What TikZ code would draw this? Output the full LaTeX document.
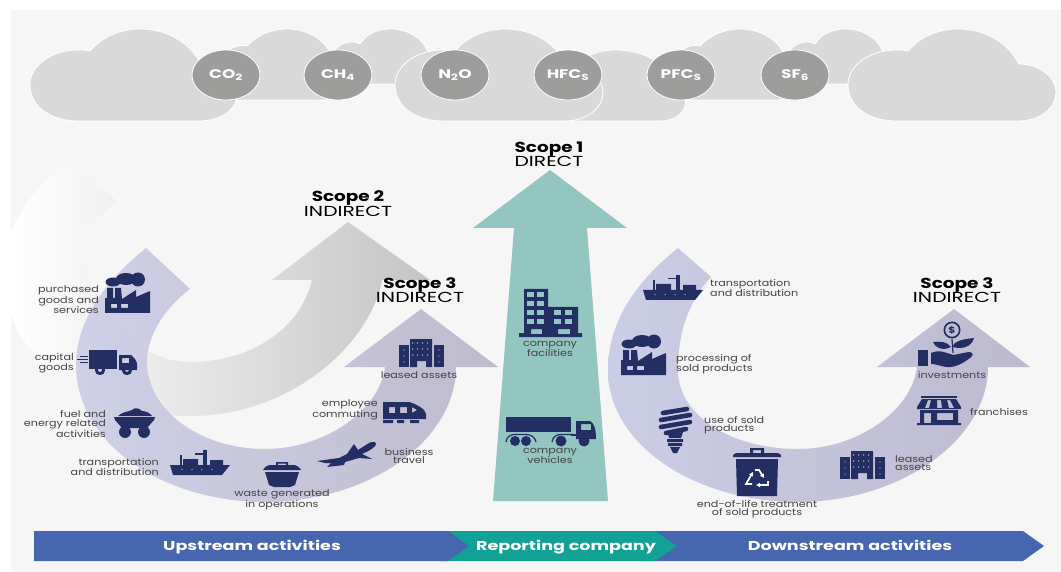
\documentclass[tikz,border=0pt]{standalone}
\usepackage{fontspec}
\setmainfont{Poppins}[FakeStretch=1.2]
\newfontfamily\widefont{Poppins}[FakeStretch=1.36]
\newfontfamily\scopefont{Poppins}[FakeStretch=1.4,BoldFeatures={FakeStretch=1.27}]
\usetikzlibrary{shapes.geometric,arrows.meta}
\definecolor{panelgrey}{HTML}{F6F6F6}
\definecolor{cloudgrey}{HTML}{D9D9D9}
\definecolor{gasgrey}{HTML}{9D9D9B}
\definecolor{teallight}{HTML}{93C5C1}
\definecolor{tealdark}{HTML}{12A195}
\definecolor{barblue}{HTML}{4666B0}
\definecolor{iconblue}{HTML}{232F63}
\definecolor{lbltext}{HTML}{444444}
\definecolor{swooshleft}{HTML}{CBCDE6}
\definecolor{swooshright}{HTML}{B9B5C9}
\tikzset{
	cloud/.style={fill=cloudgrey, draw=white, line width=0.8pt},
	gas/.style={ellipse, fill=gasgrey, draw=white, line width=0.8pt, minimum width=68pt, minimum height=50pt, inner sep=0pt, text=white, font=\widefont\fontsize{12.5}{14}\selectfont\bfseries},
	lbl/.style={inner sep=0pt, text=lbltext, font=\fontsize{9.3}{8.5}\selectfont},
	scopetitle/.style={inner sep=0pt, align=center, text=black, font=\scopefont\fontsize{14.5}{14.5}\selectfont},
	bartext/.style={anchor=base, inner sep=0pt, text=white, font=\widefont\fontsize{12.9}{15}\selectfont\bfseries},
	icon/.style={fill=iconblue, even odd rule},
	pics/bigcloud/.style={code={
		\path[cloud] (48,92) .. controls (20,92) and (0,77) .. (0,56) .. controls (0,36) and (22,21) .. (48,21) .. controls (52,21) and (56,21) .. (60,22) .. controls (72,8) and (90,0) .. (110,0) .. controls (138,0) and (160,14) .. (171,35) .. controls (192,35) and (208,49) .. (208,63) .. controls (208,79) and (192,92) .. (170,92) -- cycle;
	}},
	pics/midcloud/.style={code={
		\path[cloud] (25,71) .. controls (5,71) and (-5,50) .. (5,35) .. controls (12,22) and (28,14) .. (37,17) .. controls (47,6) and (62,0) .. (77,0) .. controls (97,0) and (113,10) .. (120,23) .. controls (135,35) and (135,71) .. (115,71) -- cycle;
	}},
	pics/smallcloud/.style={code={
		\path[cloud] (12,55) .. controls (0,40) and (12,13) .. (32,13) .. controls (36,13) and (38,14) .. (40,15) .. controls (46,5) and (58,0) .. (70,0) .. controls (88,0) and (102,9) .. (107,21) .. controls (125,30) and (125,55) .. (100,55) -- cycle;
	}},
	pics/factoryicon/.style={code={
		\path[icon] (8,10) ellipse [x radius=7.5, y radius=4.5];
		\path[icon] (21,7) ellipse [x radius=10, y radius=6];
		\path[icon] (33,7.5) ellipse [x radius=7, y radius=7];
		\path[icon] (0,41) -- (0,26) -- (2,26) -- (2,16) -- (8,16) -- (8,26) -- (10,26) -- (10,16) -- (16,16) -- (17,27) -- (31,18) -- (31,25) -- (45,19) -- (45,41) -- cycle
			(6,32) rectangle (12,36) (16,32) rectangle (23,36);
	}},
	pics/truckicon/.style={code={
		\draw[iconblue, line width=0.4pt] (3,6) -- (11,6) (0,9) -- (11,9) (3,12) -- (11,12);
		\path[icon] (12,0) rectangle (40,19);
		\path[icon] (42,5) -- (54,5) .. controls (58,8) and (60,12) .. (60,14) -- (60,20) -- (42,20) -- cycle (45,8) rectangle (52,13);
		\path[icon] (23,20) circle [radius=5.2] (23,20) circle [radius=2];
		\path[icon] (50,20) circle [radius=5.2] (50,20) circle [radius=2];
	}},
	pics/carticon/.style={code={
		\path[icon] (4,8) .. controls (10,3) and (14,4) .. (18,2) .. controls (21,-1) and (25,0) .. (28,3) .. controls (32,3) and (36,5) .. (38,8) -- cycle;
		\path[icon] (0,9) -- (41,9) -- (40,12) -- (33,20) -- (8,20) -- (1,12) -- cycle;
		\path[icon] (11,24) circle [radius=6];
		\path[icon] (30,24) circle [radius=6];
	}},
	pics/shipicon/.style={code={
		\path[icon] (0,15) -- (60,15) -- (52,25) -- (3,25) -- cycle;
		\path[icon] (13,9) rectangle (28,15) (40,10) rectangle (53,15);
		\path[icon] (33,0) rectangle (37,15);
		\path[icon] (25,3) rectangle (36,4.5);
		\path[icon] (10,5) rectangle (11.5,15);
		\foreach \wx in {12,22,32,42}
			\fill[white!70!iconblue] (\wx,19.5) circle [radius=0.6];
	}},
	pics/wasteicon/.style={code={
		\path[icon] (13,3) -- (13,0) -- (25,0) -- (25,3) -- (23,3) -- (23,1.5) -- (15,1.5) -- (15,3) -- cycle;
		\path[icon] (0,8) .. controls (2,5) and (4,3) .. (8,3) -- (30,3) .. controls (34,3) and (36,5) .. (38,8) -- cycle;
		\path[icon] (2,10) -- (36,10) -- (32,23) -- (27,25) -- (11,25) -- (6,23) -- cycle;
	}},
	pics/planeicon/.style={code={
		\path[icon] (0,19) -- (22,16) -- (30,12) -- (37,2) -- (41,8) -- (52,1) .. controls (56,-1) and (59,0) .. (59,2) .. controls (59,5) and (52,9) .. (45,12) -- (55,17) -- (42,16) -- (28,20) -- (27,23) -- (10,25) -- (14,21) -- (8,21) -- cycle;
	}},
	pics/trainicon/.style={code={
		\path[icon] (0,0) -- (26,0) .. controls (34,2) and (43,8) .. (43,12) -- (43,17) -- (0,17) -- cycle
			(6,5) rectangle (12,11) (17,5) rectangle (24,11) (29,5) -- (34,8) -- (29,11) -- cycle;
		\path[icon] (0,18) rectangle (10,21) (14,18) rectangle (21,21) (27,18) rectangle (36,21);
	}},
	pics/officeicon/.style={code={
		\path[icon] (0,6) rectangle (10,28);
		\path[icon] (35,6) rectangle (45,28);
		\path[icon] (11,0) -- (33,0) -- (33,28) -- (27,28) -- (27,22) -- (18,22) -- (18,28) -- (11,28) -- cycle;
		\foreach \wx in {15,20,25,30}
			\foreach \wy in {4,10,16}
				\fill[white!75!iconblue] (\wx-1.4,\wy) circle [radius=0.7];
		\foreach \wx in {5,40}
			\foreach \wy in {11,17,23}
				\fill[white!75!iconblue] (\wx,\wy) circle [radius=0.7];
	}},
	pics/buildingicon/.style={code={
		\path[icon] (0,44) -- (5,44) -- (5,0) -- (29,0) -- (29,18) -- (59,18) -- (59,44) -- (63,44) -- (63,48) -- (0,48) -- cycle
			(12,40) rectangle (23,45) (39,40) rectangle (51,45);
		\foreach \wx in {8,18}
			\foreach \wy in {3,12,21,30}
				\fill[teallight] (\wx,\wy) rectangle +(6.5,5);
		\foreach \wx in {35,46}
			\foreach \wy in {21,30}
				\fill[teallight] (\wx,\wy) rectangle +(7,5);
	}},
	pics/lorryicon/.style={code={
		\path[icon] (0,0) rectangle (65,15);
		\path[icon] (70,4) -- (84,4) .. controls (88,6) and (90,12) .. (90,22) -- (70,22) -- cycle (75,7) rectangle (85,13);
		\path[icon] (65,17) rectangle (70,18.5);
		\path[icon] (9,24) circle [radius=5];
		\path[icon] (20,24) circle [radius=5];
		\path[icon] (55,24) circle [radius=5.5];
		\path[icon] (78,24) circle [radius=5.5];
		\draw[iconblue, line width=1.2pt] (0,25) .. controls (1,19) and (5,17.5) .. (9,17.5) -- (20,17.5) .. controls (25,17.5) and (29,20) .. (30,25);
		\draw[iconblue, line width=1.2pt] (46,25) .. controls (47,19) and (51,17.5) .. (55,17.5) -- (67,17.5);
	}},
	pics/bulbicon/.style={code={
		\draw[iconblue, line width=4.6pt, line cap=round] (5,7) -- (29,3) (3,14) -- (32,9) (3,21) -- (32,16) (8,27) -- (28,23);
		\path[icon] (10,28) -- (25,26) -- (23,32) -- (11,32) -- cycle;
		\path[icon] (9,33) rectangle (25,36) (10,37) rectangle (24,40);
		\path[icon] (12,41) -- (22,41) -- (19,47) -- (15,47) -- cycle;
	}},
	pics/recycleicon/.style={code={
		\path[icon] (17,6) -- (17,0) -- (31,0) -- (31,6) -- (28,6) -- (28,2) -- (20,2) -- (20,6) -- cycle;
		\path[icon] (0,7) -- (3,5) -- (45,5) -- (48,7) -- (48,9) -- (0,9) -- cycle;
		\path[icon] (3,11) -- (45,11) -- (44,48) -- (4,48) -- cycle;
		\draw[white, line width=1.7pt, -{Latex[length=4pt,width=5pt]}] (19,36) -- (13,36) -- (20,24);
		\draw[white, line width=1.7pt, -{Latex[length=4pt,width=5pt]}] (22,22) -- (26,22) -- (31,30);
		\draw[white, line width=1.7pt, -{Latex[length=4pt,width=5pt]}] (35,33) -- (35,37) -- (23,37);
	}},
	pics/storeicon/.style={code={
		\path[icon] (4,0) rectangle (40,1.5);
		\path[icon] (5,3) -- (39,3) -- (44,11) -- (44,13) -- (0,13) -- (0,11) -- cycle
			(11,4) -- (14,4) -- (12,12) -- (8,12) -- cycle (20,4) -- (24,4) -- (25,12) -- (20,12) -- cycle (30,4) -- (33,4) -- (37,12) -- (32,12) -- cycle;
		\path[icon] (3,14) -- (41,14) -- (41,27) -- (44,27) -- (44,29) -- (0,29) -- (0,27) -- (3,27) -- cycle
			(7,17) -- (14,17) -- (14,27) -- (7,27) -- cycle (20,17) rectangle (36,24);
	}},
	pics/planticon/.style={code={
		\path[icon] (34,8) circle [radius=8.5] (34,8) circle [radius=6.8];
		\node[inner sep=0pt, text=iconblue, font=\fontsize{9}{9}\selectfont\bfseries] (dollar sign) at (34,8) {\$};
		\draw[iconblue, line width=1.2pt] (34,17) -- (35,31);
		\path[icon] (35,25) .. controls (35,19) and (46,17) .. (56,16) .. controls (54,24) and (45,28) .. (35,25) -- cycle;
		\path[icon] (33,25) .. controls (30,20) and (22,19) .. (15,20) .. controls (17,26) and (25,29) .. (33,25) -- cycle;
		\path[icon] (0,28) rectangle (10,44);
		\path[icon] (13,31) .. controls (22,27) and (28,31) .. (35,33) .. controls (42,32) and (48,30) .. (52,30) .. controls (56,31) and (55,34) .. (52,36) .. controls (44,42) and (36,46) .. (28,45) .. controls (22,44) and (18,42) .. (13,42) -- cycle;
	}}
}
\begin{document}
\begin{tikzpicture}[x=1pt, y=-1pt]
	\useasboundingbox (0,0) rectangle (1061,572);
	\fill[panelgrey] (11,10) rectangle (1061,572);

	% clouds, back ones first
	\pic at (210,29) {midcloud};
	\pic at (663,29) {midcloud};
	\pic at (320,29) {smallcloud};
	\pic at (775,29) {smallcloud};
	\path[cloud] (560,121) .. controls (555,70) and (585,50) .. (615,50) .. controls (650,50) and (668,68) .. (670,80) .. controls (690,85) and (695,121) .. (659,121) -- cycle;
	\pic at (30,29) {bigcloud};
	\pic at (395,29) {bigcloud};
	\pic at (848,29) {bigcloud};

	\node[gas](co2) at (226,75){CO\textsubscript{2}};
	\node[gas](ch4) at (338,75){CH\textsubscript{4}};
	\node[gas](n2o) at (455,75){N\textsubscript{2}O};
	\node[gas](hfcs) at (568,75){HFC\textsubscript{S}};
	\node[gas](pfcs) at (681,75){PFC\textsubscript{S}};
	\node[gas](sf6) at (795,75){SF\textsubscript{6}};

	% scope 2 swoosh
	\path[left color=white, middle color=black!10, right color=black!23] (348,222) -- (430,280) -- (382,280) .. controls (370,345) and (290,416) .. (190,416) .. controls (100,416) and (30,370) .. (11,315) -- (11,232) .. controls (25,200) and (45,178) .. (68,162) -- (117,201) -- (80,232) .. controls (85,300) and (130,362) .. (190,362) .. controls (250,362) and (300,330) .. (312,280) -- (272,280) -- cycle;

	% scope 3 swooshes
	\path[left color=swooshleft, right color=swooshright, fill opacity=0.9] (146,248) .. controls (100,285) and (76,325) .. (76,365) .. controls (76,445) and (165,502) .. (265,502) .. controls (370,502) and (456,440) .. (456,367) -- (498,367) -- (421,309) -- (344,367) -- (385,367) .. controls (380,410) and (325,449) .. (265,449) .. controls (200,449) and (147,410) .. (147,362) .. controls (147,335) and (165,308) .. (190,289) -- cycle;
	\path[left color=swooshleft, right color=swooshright!80!swooshleft] (678,248) .. controls (632,285) and (608,325) .. (608,370) .. controls (608,445) and (695,502) .. (798,502) .. controls (900,502) and (988,440) .. (988,367) -- (1030,367) -- (954,309) -- (877,367) -- (917,367) .. controls (912,410) and (858,449) .. (798,449) .. controls (730,449) and (678,415) .. (678,370) .. controls (678,330) and (690,300) .. (711,277) -- cycle;

	% scope 1 arrow
	\path[fill=teallight] (550,170) -- (627,228) -- (587,228) -- (608,501) -- (493,501) -- (514,228) -- (473,228) -- cycle;

	% bottom bar
	\path[fill=barblue] (640,531) -- (1023,531) -- (1044,546) -- (1023,561) -- (640,561) -- cycle;
	\path[fill=tealdark] (440,531) -- (655,531) -- (677,546) -- (655,561) -- (440,561) -- cycle;
	\path[fill=barblue] (34,531) -- (448,531) -- (469,546) -- (448,561) -- (34,561) -- cycle;
	\node[bartext](upstream) at (252,550.5){Upstream activities};
	\node[bartext](reporting) at (566,550.5){Reporting company};
	\node[bartext](downstream) at (850,550.5){Downstream activities};

	% scope titles
	\node[scopetitle](scope one) at (549,154.5){\textbf{Scope 1}\\DIRECT};
	\node[scopetitle](scope two) at (348,203.5){\textbf{Scope 2}\\INDIRECT};
	\node[scopetitle](scope three up) at (420,290){\textbf{Scope 3}\\INDIRECT};
	\node[scopetitle](scope three down) at (957,290){\textbf{Scope 3}\\INDIRECT};

	% upstream icons
	\pic at (105,272) {factoryicon};
	\pic at (77,350) {truckicon};
	\pic at (114,408) {carticon};
	\pic at (170,450) {shipicon};
	\pic at (263,462) {wasteicon};
	\pic at (317,442) {planeicon};
	\pic at (383,402) {trainicon};
	\pic at (399,339) {officeicon};

	\node[lbl, align=right, anchor=east](purchased) at (99,300){purchased\\goods and\\services};
	\node[lbl, align=right, anchor=east](capital) at (74,363){capital\\goods};
	\node[lbl, align=right, anchor=east](fuel) at (106,424){fuel and\\energy related\\activities};
	\node[lbl, align=right, anchor=east](transport up) at (159,467){transportation\\and distribution};
	\node[lbl, align=center](waste) at (282,500){waste generated\\in operations};
	\node[lbl, align=center](business) at (409,456){business\\travel};
	\node[lbl, align=right, anchor=east](employee) at (378,410){employee\\commuting};
	\node[lbl](leased up) at (419,375){leased assets};

	% company icons
	\pic at (519,289) {buildingicon};
	\pic at (506,417) {lorryicon};
	\node[lbl, align=center](facilities) at (550,349){company\\facilities};
	\node[lbl, align=center](vehicles) at (550,456){company\\vehicles};

	% downstream icons
	\pic at (643,275) {shipicon};
	\pic at (621,334) {factoryicon};
	\pic at (658,406) {bulbicon};
	\pic at (733,448) {recycleicon};
	\pic at (840,451) {officeicon};
	\pic at (917,396) {storeicon};
	\pic at (918,322) {planticon};

	\node[lbl, align=left, anchor=west](transport down) at (710,288){transportation\\and distribution};
	\node[lbl, align=left, anchor=west](processing) at (676,364){processing of\\sold products};
	\node[lbl, align=left, anchor=west](use) at (704,425){use of sold\\products};
	\node[lbl, align=center](endoflife) at (757,509){end-of-life treatment\\of sold products};
	\node[lbl, align=left, anchor=west](leased down) at (895,463){leased\\assets};
	\node[lbl, anchor=west](franchises) at (970,412){franchises};
	\node[lbl](investments) at (952,375){investments};
\end{tikzpicture}
\end{document}
